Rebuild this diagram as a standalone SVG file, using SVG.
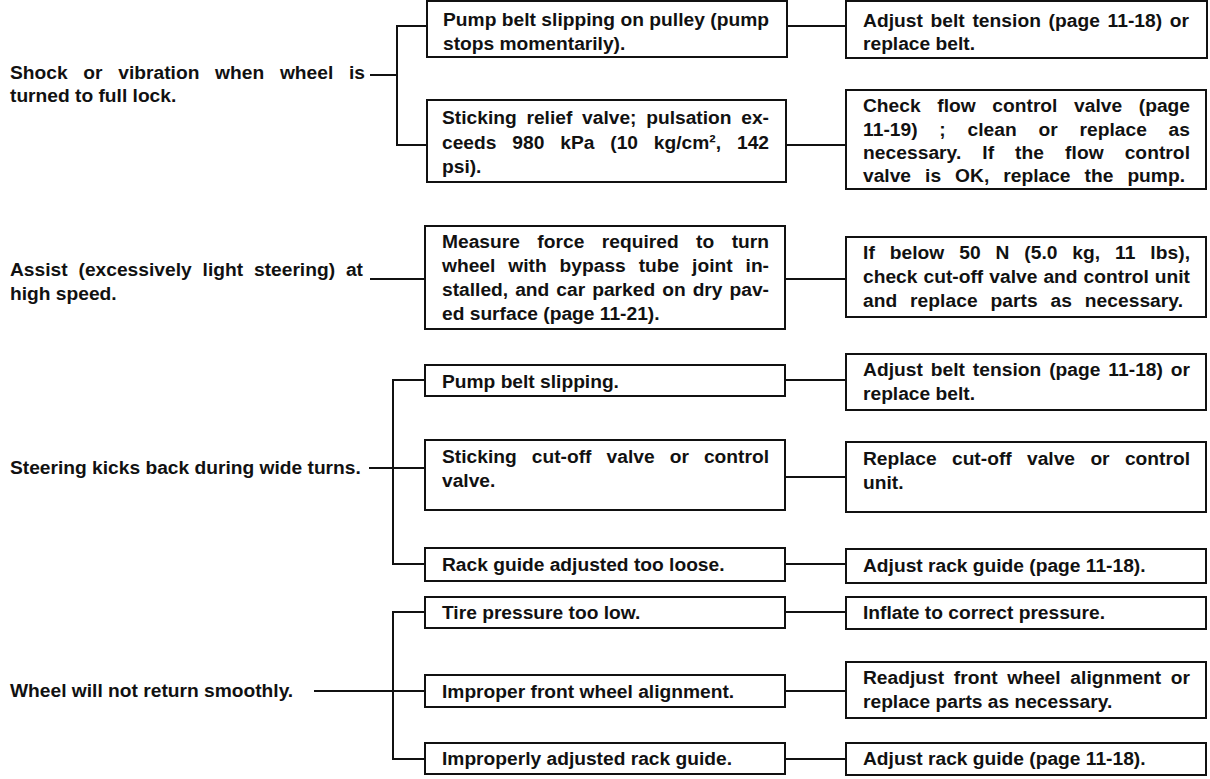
<svg xmlns="http://www.w3.org/2000/svg" width="1210" height="779" viewBox="0 0 1210 779">
<style>
text{font-family:"Liberation Sans",Arial,sans-serif;font-weight:bold;font-size:19.2px;fill:#111}
.box{fill:#fff;stroke:#111;stroke-width:2}
.c{fill:none;stroke:#111;stroke-width:2}
</style>
<rect width="1210" height="779" fill="#fff"/>
<g id="connectors">
<path class="c" d="M370 75H397M427 26H397V145H427M787 26H846M786 145H846"/>
<path class="c" d="M370 279H425M785 279H846"/>
<path class="c" d="M369 468H425M425 380H393V564H425M785 380H846M785 477H846M785 564H846"/>
<path class="c" d="M314 691H425M425 612H393V759H425M785 612H846M785 691H846M785 759H846"/>
</g>
<g id="s1">
<text x="10" y="79" word-spacing="10.4" textLength="355" lengthAdjust="spacing">Shock or vibration when wheel is</text>
<text x="10" y="102">turned to full lock.</text>
</g>
<g id="c1a"><rect class="box" x="427" y="1" width="360" height="56"/>
<text x="443" y="26" textLength="326" lengthAdjust="spacing">Pump belt slipping on pulley (pump</text>
<text x="443" y="50">stops momentarily).</text></g>
<g id="c1b"><rect class="box" x="427" y="100" width="359" height="82"/>
<text x="442" y="124" word-spacing="4.4" textLength="327" lengthAdjust="spacing">Sticking relief valve; pulsation ex-</text>
<text x="442" y="149" word-spacing="10.5" textLength="327" lengthAdjust="spacing">ceeds 980 kPa (10 kg/cm², 142</text>
<text x="442" y="173">psi).</text></g>
<g id="r1a"><rect class="box" x="846" y="1" width="361" height="57"/>
<text x="863" y="27" word-spacing="2.3" textLength="326" lengthAdjust="spacing">Adjust belt tension (page 11-18) or</text>
<text x="863" y="50">replace belt.</text></g>
<g id="r1b"><rect class="box" x="846" y="90" width="360" height="99"/>
<text x="863" y="112" word-spacing="11.3" textLength="327" lengthAdjust="spacing">Check flow control valve (page</text>
<text x="863" y="136" word-spacing="16.3" textLength="327" lengthAdjust="spacing">11-19) ; clean or replace as</text>
<text x="863" y="159" word-spacing="15.6" textLength="327" lengthAdjust="spacing">necessary. If the flow control</text>
<text x="863" y="182" word-spacing="8.7" textLength="322" lengthAdjust="spacing">valve is OK, replace the pump.</text></g>
<g id="s2">
<text x="10" y="276" word-spacing="5.5" textLength="353" lengthAdjust="spacing">Assist (excessively light steering) at</text>
<text x="10" y="300">high speed.</text>
</g>
<g id="c2"><rect class="box" x="425" y="226" width="360" height="103"/>
<text x="442" y="248" word-spacing="12.1" textLength="327" lengthAdjust="spacing">Measure force required to turn</text>
<text x="442" y="272" word-spacing="7.6" textLength="327" lengthAdjust="spacing">wheel with bypass tube joint in-</text>
<text x="442" y="296" word-spacing="1.7" textLength="327" lengthAdjust="spacing">stalled, and car parked on dry pav-</text>
<text x="442" y="320">ed surface (page 11-21).</text></g>
<g id="r2"><rect class="box" x="846" y="237" width="360" height="80"/>
<text x="863" y="259" word-spacing="9.5" textLength="327" lengthAdjust="spacing">If below 50 N (5.0 kg, 11 lbs),</text>
<text x="863" y="283" word-spacing="0.7" textLength="327" lengthAdjust="spacing">check cut-off valve and control unit</text>
<text x="863" y="307" word-spacing="7.4" textLength="320" lengthAdjust="spacing">and replace parts as necessary.</text></g>
<g id="s3"><text x="10" y="474">Steering kicks back during wide turns.</text></g>
<g id="c3a"><rect class="box" x="425" y="365" width="360" height="31"/>
<text x="442" y="388">Pump belt slipping.</text></g>
<g id="r3a"><rect class="box" x="846" y="354" width="360" height="56"/>
<text x="863" y="376" word-spacing="2.4" textLength="327" lengthAdjust="spacing">Adjust belt tension (page 11-18) or</text>
<text x="863" y="400">replace belt.</text></g>
<g id="c3b"><rect class="box" x="425" y="440" width="360" height="70"/>
<text x="442" y="463" word-spacing="9.75" textLength="327" lengthAdjust="spacing">Sticking cut-off valve or control</text>
<text x="442" y="487">valve.</text></g>
<g id="r3b"><rect class="box" x="846" y="442" width="360" height="70"/>
<text x="863" y="465" word-spacing="10" textLength="327" lengthAdjust="spacing">Replace cut-off valve or control</text>
<text x="863" y="489">unit.</text></g>
<g id="c3c"><rect class="box" x="425" y="548" width="360" height="33"/>
<text x="442" y="571">Rack guide adjusted too loose.</text></g>
<g id="r3c"><rect class="box" x="846" y="549" width="360" height="34"/>
<text x="863" y="572">Adjust rack guide (page 11-18).</text></g>
<g id="s4"><text x="10" y="697">Wheel will not return smoothly.</text></g>
<g id="c4a"><rect class="box" x="425" y="597" width="360" height="31"/>
<text x="442" y="619">Tire pressure too low.</text></g>
<g id="r4a"><rect class="box" x="846" y="597" width="360" height="32"/>
<text x="863" y="619">Inflate to correct pressure.</text></g>
<g id="c4b"><rect class="box" x="425" y="675" width="360" height="32"/>
<text x="442" y="698">Improper front wheel alignment.</text></g>
<g id="r4b"><rect class="box" x="846" y="662" width="360" height="56"/>
<text x="863" y="684" word-spacing="4.4" textLength="327" lengthAdjust="spacing">Readjust front wheel alignment or</text>
<text x="863" y="708">replace parts as necessary.</text></g>
<g id="c4c"><rect class="box" x="425" y="743" width="360" height="31"/>
<text x="442" y="765">Improperly adjusted rack guide.</text></g>
<g id="r4c"><rect class="box" x="846" y="743" width="360" height="32"/>
<text x="863" y="765">Adjust rack guide (page 11-18).</text></g>
</svg>
